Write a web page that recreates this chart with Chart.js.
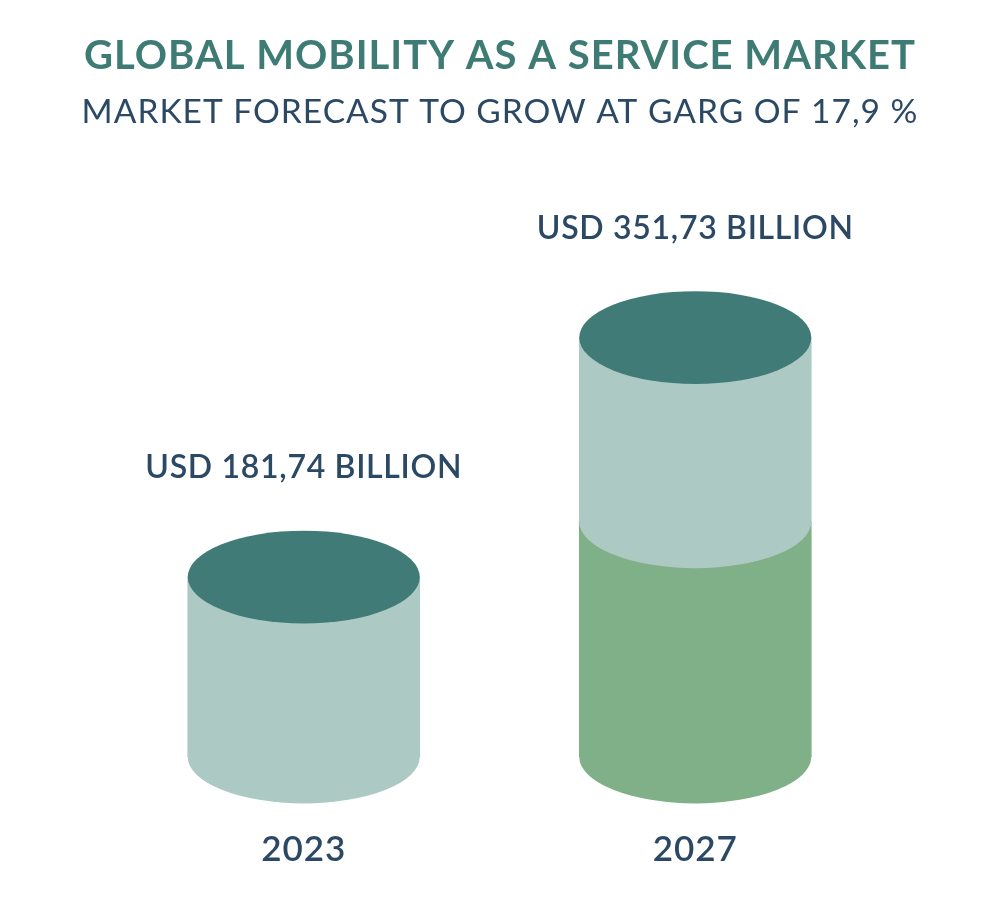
<!DOCTYPE html>
<html>
<head>
<meta charset="utf-8">
<script src="https://cdn.jsdelivr.net/npm/chart.js@4"></script>
<style>
  html, body { margin: 0; padding: 0; background: #ffffff; }
  #wrap { width: 1000px; height: 911px; }
</style>
</head>
<body>
<div id="wrap"><canvas id="chart" width="1000" height="911"></canvas></div>
<script>
(function() {
	'use strict';

	// Chart data
	const categories = ['2023', '2027'];
	const marketValues = [181.74, 351.73];
	// lower green segment of each cylinder
	const greenSegment = [0, 221];
	const valueLabels = ['USD 181,74 BILLION', 'USD 351,73 BILLION'];

	const titleText = 'GLOBAL MOBILITY AS A SERVICE MARKET';
	const subtitleText = 'MARKET FORECAST TO GROW AT GARG OF 17,9 %';

	const colors = {
		cap: '#407b77',
		light: '#adc9c3',
		green: '#80b087',
		title: '#3e7b74',
		text: '#2b4964'
	};

	/**
	 * Wider letter spacing for title, subtitle and ticks.
	 */
	const spacingPlugin = {
		id: 'spacing',
		beforeDraw: function(chart) {
			chart.ctx.letterSpacing = '1px';
		}
	};

	/**
	 * Draw the cylinder caps and value labels on top of the bar bodies.
	 */
	const cylinderPlugin = {
		id: 'cylinders',
		afterDatasetsDraw: function(chart) {
			const ctx = chart.ctx;
			const area = chart.chartArea;
			const metas = chart.getSortedVisibleDatasetMetas();

			categories.forEach(function(cat, i) {
				let topBar = null;
				metas.forEach(function(meta) {
					const bar = meta.data[i];
					const raw = chart.data.datasets[meta.index].data[i];
					if (!bar || !raw) {
						return;
					}
					const props = bar.getProps(['x', 'y', 'base', 'width'], true);
					const rx = props.width / 2;
					const ry = props.width * 0.2;
					const base = Math.min(props.base, area.bottom);

					// lower rim of this segment
					ctx.save();
					ctx.fillStyle = chart.data.datasets[meta.index].backgroundColor;
					ctx.beginPath();
					ctx.ellipse(props.x, base, rx, ry, 0, 0, Math.PI * 2);
					ctx.fill();
					ctx.restore();

					topBar = props;
				});

				if (!topBar) {
					return;
				}
				const rx = topBar.width / 2;
				const ry = topBar.width * 0.2;

				ctx.save();
				ctx.fillStyle = colors.cap;
				ctx.beginPath();
				ctx.ellipse(topBar.x, topBar.y, rx, ry, 0, 0, Math.PI * 2);
				ctx.fill();

				// value label above the cylinder
				ctx.fillStyle = colors.text;
				ctx.font = '600 32px Lato';
				ctx.textAlign = 'center';
				ctx.textBaseline = 'middle';
				ctx.letterSpacing = '0.7px';
				ctx.fillText(valueLabels[i], topBar.x, topBar.y - ry - 63);
				ctx.restore();
			});
		}
	};

	// invisible side axes used only as gutters
	function gutter(width) {
		return {
			display: true,
			ticks: { display: false },
			grid: { display: false },
			border: { display: false },
			afterFit: function(scale) {
				scale.width = width;
			}
		};
	}

	const ctx = document.getElementById('chart').getContext('2d');

	const leftAxis = gutter(108);
	leftAxis.stacked = true;
	leftAxis.min = 54;
	leftAxis.max = 400;

	const rightAxis = gutter(109);
	rightAxis.position = 'right';

	new Chart(ctx, {
		type: 'bar',
		data: {
			labels: categories,
			datasets: [{
				label: 'Base',
				data: greenSegment,
				backgroundColor: colors.green,
				borderWidth: 0,
				barThickness: 232
			}, {
				label: 'Market size',
				data: marketValues.map(function(v, i) { return v - greenSegment[i]; }),
				backgroundColor: colors.light,
				borderWidth: 0,
				barThickness: 232
			}]
		},
		options: {
			responsive: false,
			animation: false,
			devicePixelRatio: 1,
			layout: {
				padding: 0
			},
			plugins: {
				legend: { display: false },
				tooltip: { enabled: false },
				title: {
					display: true,
					text: titleText,
					color: colors.title,
					font: { family: 'Lato', size: 40, weight: 'bold' },
					padding: { top: 32, bottom: 10 }
				},
				subtitle: {
					display: true,
					text: subtitleText,
					color: colors.text,
					font: { family: 'Lato', size: 33.5, weight: 'normal' },
					padding: { top: 2, bottom: 137.4 }
				}
			},
			scales: {
				x: {
					stacked: true,
					grid: { display: false, drawTicks: false },
					border: { display: false },
					ticks: {
						color: colors.text,
						padding: 71.5,
						font: { family: 'Lato', size: 35, weight: '600' }
					},
					afterFit: function(scale) {
						scale.height = 154;
					}
				},
				y: leftAxis,
				yRight: rightAxis
			}
		},
		plugins: [spacingPlugin, cylinderPlugin]
	});
})();
</script>
</body>
</html>
